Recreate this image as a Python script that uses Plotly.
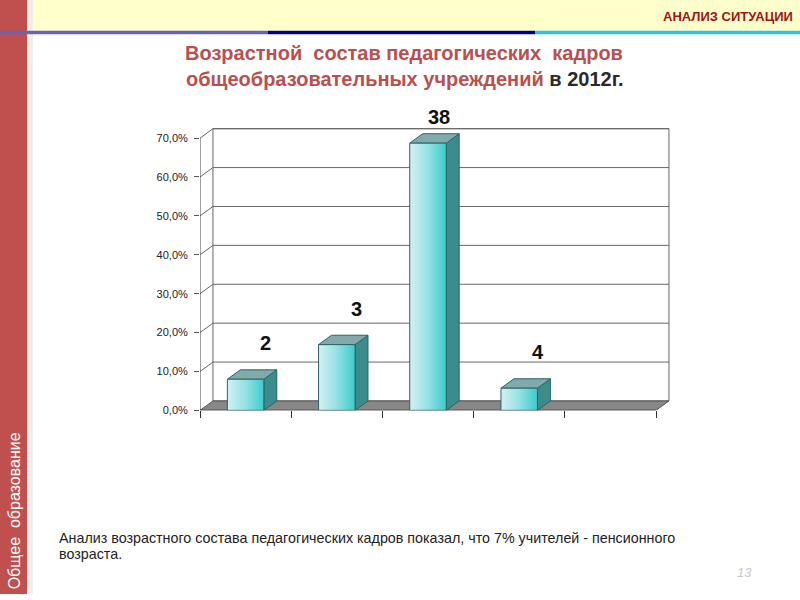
import plotly.graph_objects as go

# ---------------- data ----------------
categories = ["1", "2", "3", "4", "5"]
shares = [0.080, 0.169, 0.687, 0.057, 0.0]          # share of teachers (fraction)
bar_labels = ["2", "3", "38", "4", ""]               # labels shown above bars
y_ticks = [0.0, 0.1, 0.2, 0.3, 0.4, 0.5, 0.6, 0.7]
y_tick_text = ["0,0%", "10,0%", "20,0%", "30,0%", "40,0%", "50,0%", "60,0%", "70,0%"]

title_line1 = "Возрастной  состав педагогических  кадров"
title_line2 = "общеобразовательных учреждений "
title_year = "в 2012г."
header = "АНАЛИЗ СИТУАЦИИ"
side_text = "Общее  образование"
note_lines = ["Анализ возрастного состава педагогических кадров показал, что 7% учителей - пенсионного",
              "возраста."]
page_no = "13"

# ---------------- styles ----------------
W, H = 800, 600
FONT = "Arial, Liberation Sans, sans-serif"
DX = 0.142      # 3D depth in category units
DY = 0.0242     # 3D depth in value units
HALF = 0.2      # half bar width in category units
GRID = "#666666"
label_shift = [(20, 36), (20, 36), (11, 26), (19, 36), (0, 0)]
V_OFF = 3       # small vertical correction of the chart block (px)


def px(x):
    return x / W


def py(y):
    return (H - y) / H


n = len(categories)
x_range = [0, n + 0.2]
y_range = [0, 0.75]
ux = (656 - 200) / n
uy = (411.5 - 136.5) / 0.7
x_left = 200
x_right = 200 + ux * x_range[1]
y_bottom = 411.5 + V_OFF
y_top = y_bottom - uy * y_range[1]

fig = go.Figure()
annotations = []


def poly(xs, ys, fill=None, line="#555555", lw=1, grad=None):
    kw = dict(x=xs + [xs[0]], y=ys + [ys[0]], mode="lines",
              line=dict(color=line, width=lw), hoverinfo="skip", showlegend=False)
    if fill is not None or grad is not None:
        kw["fill"] = "toself"
        kw["fillcolor"] = fill
    if grad is not None:
        kw["fillgradient"] = grad
    fig.add_trace(go.Scatter(**kw))


def path(xs, ys, color=GRID, lw=1):
    fig.add_trace(go.Scatter(x=xs, y=ys, mode="lines", line=dict(color=color, width=lw),
                             hoverinfo="skip", showlegend=False))


top = y_ticks[-1]
# back wall
poly([DX, n + DX, n + DX, DX], [DY, DY, top + DY, top + DY], fill="white", line=GRID)
# grid lines (side wall diagonal + back wall horizontal)
for v in y_ticks[1:]:
    path([0, DX, n + DX], [v, v + DY, v + DY])
# floor
poly([0, n, n + DX, DX], [0, 0, DY, DY], fill="#878787", line="#555555")
# front axes lines
path([0, 0], [0, top], color="#444444")
path([0, n], [0, 0], color="#222222")

# bars
for i, v in enumerate(shares):
    if v <= 0:
        continue
    c = i + 0.5
    l, r = c - HALF, c + HALF
    poly([r, r + DX, r + DX, r], [0, DY, v + DY, v], fill="#3d8c8c", line="#2c6364")
    poly([l, r, r + DX, l + DX], [v, v, v + DY, v + DY], fill="#80aaab", line="#2c6364")
    poly([l, r, r, l], [0, 0, v, v], fill="#7fdcdc", line="#2c6364",
         grad=dict(type="horizontal",
                   colorscale=[[0, "#d4f1f3"], [0.5, "#94e1e3"], [1, "#3ccccd"]]))
    if bar_labels[i]:
        sx, sy = label_shift[i]
        annotations.append(dict(x=c, y=v, xref="x", yref="y", text="<b>%s</b>" % bar_labels[i],
                                showarrow=False, xanchor="center", yanchor="middle",
                                xshift=sx, yshift=sy,
                                font=dict(family=FONT, size=20, color="#111111")))

fig.update_xaxes(range=x_range, domain=[px(x_left), px(x_right)],
                 showgrid=False, zeroline=False, showline=False,
                 tickmode="array", tickvals=list(range(n + 1)), ticks="outside",
                 ticklen=7, tickcolor="#333333", showticklabels=False, fixedrange=True)
fig.update_yaxes(range=y_range, domain=[py(y_bottom), py(y_top)],
                 showgrid=False, zeroline=False, showline=False,
                 tickmode="array", tickvals=y_ticks, ticktext=y_tick_text,
                 ticks="outside", ticklen=5, tickcolor="#555555", ticklabelstandoff=4,
                 tickfont=dict(family=FONT, size=11, color="#222222"), fixedrange=True)

shapes = [
    dict(type="rect", xref="paper", yref="paper", x0=px(26), x1=px(33), y0=0, y1=1,
         fillcolor="#f1ede8", line_width=0, layer="below"),
    dict(type="rect", xref="paper", yref="paper", x0=px(33), x1=1, y0=py(31), y1=1,
         fillcolor="#ffffcc", line_width=0, layer="below"),
    dict(type="rect", xref="paper", yref="paper", x0=0, x1=px(27), y0=0, y1=1,
         fillcolor="#c0504d", line_width=0, layer="below"),
    dict(type="rect", xref="paper", yref="paper", x0=0, x1=px(268), y0=py(34.5), y1=py(31),
         fillcolor="#6464b9", line_width=0, layer="below"),
    dict(type="rect", xref="paper", yref="paper", x0=px(268), x1=px(535), y0=py(34.5), y1=py(31),
         fillcolor="#000086", line_width=0, layer="below"),
    dict(type="rect", xref="paper", yref="paper", x0=px(535), x1=1, y0=py(34.5), y1=py(31),
         fillcolor="#26c3ee", line_width=0, layer="below"),
]

annotations += [
    dict(x=px(795), y=py(16.5), xref="paper", yref="paper", text="<b>" + header + "</b>",
         showarrow=False, xanchor="right", yanchor="middle",
         font=dict(family=FONT, size=13, color="#a01414")),
    dict(x=px(404), y=py(54), xref="paper", yref="paper", text="<b>" + title_line1 + "</b>",
         showarrow=False, xanchor="center", yanchor="middle",
         font=dict(family=FONT, size=20, color="#b9504f")),
    dict(x=px(405), y=py(80), xref="paper", yref="paper",
         text="<b>" + title_line2 + "<span style='color:#2a2a2a'>" + title_year + "</span></b>",
         showarrow=False, xanchor="center", yanchor="middle",
         font=dict(family=FONT, size=20, color="#b9504f")),
    dict(x=px(14.5), y=py(516), xref="paper", yref="paper", text=side_text, textangle=-90,
         showarrow=False, xanchor="center", yanchor="middle",
         font=dict(family=FONT, size=16, color="white")),
    dict(x=px(754), y=py(578), xref="paper", yref="paper", text="<i>" + page_no + "</i>",
         showarrow=False, xanchor="right", yanchor="middle",
         font=dict(family=FONT, size=13, color="#c8c8c8")),
]
for k, line in enumerate(note_lines):
    annotations.append(dict(x=px(57), y=py(543 + 16.5 * k), xref="paper", yref="paper",
                            text=line, showarrow=False, xanchor="left", yanchor="middle",
                            font=dict(family=FONT, size=14.3, color="#222222")))

fig.update_layout(width=W, height=H, autosize=False,
                  margin=dict(l=0, r=0, t=0, b=0, pad=0),
                  paper_bgcolor="white", plot_bgcolor="rgba(0,0,0,0)",
                  showlegend=False, shapes=shapes, annotations=annotations,
                  font=dict(family=FONT))

fig.write_html("out.html", config={"displayModeBar": False},
               post_script="document.body.style.margin='0';document.body.style.overflow='hidden';")
